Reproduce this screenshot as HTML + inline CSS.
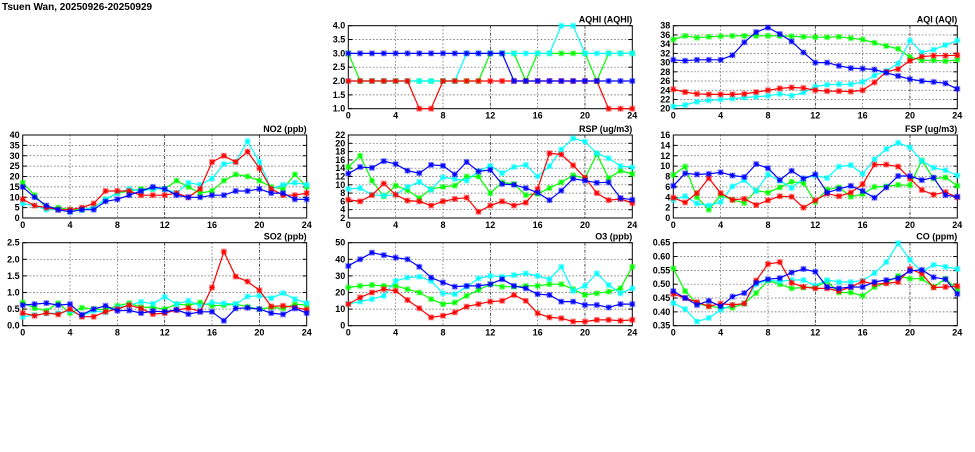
<!DOCTYPE html>
<html><head><meta charset="utf-8"><style>
body{margin:0;background:#fff;width:975px;height:447px;overflow:hidden}
svg text{font-family:"Liberation Sans",sans-serif;font-weight:bold;font-size:9px;fill:#000}
</style></head><body>
<svg id="chart" width="975" height="447" viewBox="0 0 975 447">
<text x="2" y="10" style="font-size:10px">Tsuen Wan, 20250926-20250929</text>
</svg>
<script>
const hours = [0,1,2,3,4,5,6,7,8,9,10,11,12,13,14,15,16,17,18,19,20,21,22,23,24];
const xTicks = [0,4,8,12,16,20,24];
const seriesColors = ["#00ff00","#00ffff","#ff0000","#0000ff"];

const aqhiGreen=[3,2,2,2,2,2,2,2,2,2,2,2,3,3,3,2,3,3,3,3,3,2,3,3,3];
const aqhiCyan=[2,2,2,2,2,2,2,2,2,2,3,3,3,3,3,3,3,3,4,4,3,3,3,3,3];
const aqhiRed=[2,2,2,2,2,2,1,1,2,2,2,2,2,2,2,2,2,2,2,2,2,2,1,1,1];
const aqhiBlue=[3,3,3,3,3,3,3,3,3,3,3,3,3,3,2,2,2,2,2,2,2,2,2,2,2];
const aqhiTicks=["1.0","1.5","2.0","2.5","3.0","3.5","4.0"];

const aqiGreen=[35,35.8,35.4,35.6,35.7,35.8,35.8,35.8,35.8,35.8,35.7,35.6,35.5,35.5,35.6,35.3,35,34.3,33.6,33,31.2,30.5,30.5,30.3,30.6];
const aqiCyan=[20.5,20.8,21.5,21.8,22,22.2,22.4,22.6,22.8,23.2,22.8,23.5,24.8,25.2,25.3,25.3,25.8,27.2,28.2,29.8,34.8,32.2,32.8,33.8,34.8];
const aqiRed=[24.2,23.6,23.2,23.1,23.1,23.1,23.2,23.6,24,24.4,24.6,24.5,24,23.8,23.8,23.7,24,25.7,28,28.6,30.4,31.3,31.5,31.5,31.6];
const aqiBlue=[30.6,30.4,30.6,30.6,30.6,31.6,34.4,36.6,37.6,36.2,34.6,32.2,30,30,29.3,28.8,28.7,28.5,27.8,27.1,26.4,26,25.8,25.5,24.3];
const aqiTicks=["20","22","24","26","28","30","32","34","36","38"];

const no2Green=[17,11,5,5,4,4,5,9,12,13,14,14,14,18,15,12,13,18,21,20,18,15,14,21,15];
const no2Cyan=[7,6,4,4,3,4,5,9,12,14,13,14,14,12,17,16,19,26,27,37,27,14,16,17,16];
const no2Red=[9,6,5,4,4,5,7,13,13,13,11,11,11,12,10,14,27,30,27,32,24,14,11,11,12];
const no2Blue=[15,10,6,4,3,4,4,8,9,11,13,15,14,11,10,10,11,11,13,13,14,12,12,9,9];
const no2Ticks=["0","5","10","15","20","25","30","35","40"];

const rspGreen=[14.3,17,11,7.2,9.8,8.7,6.8,9,9.5,9.8,12,12,8,10.6,10.2,7.5,7.8,9.2,10.6,12.3,11.6,17.4,11.6,13.4,12.6];
const rspCyan=[9,9.2,7.6,7.4,7.6,9.5,10.7,8.8,11.8,11.4,11,13.3,14.6,12.8,14.3,14.8,12,14.5,18.5,21.2,20.4,17.6,16.4,14.5,14.2];
const rspRed=[6.4,6,7.5,10.3,7.6,6.2,6,5,6,6.6,6.9,3.5,5,6,5,5.7,9,17.6,17.3,14.7,11.7,8,6.3,6.6,5.6];
const rspBlue=[12.7,14.3,14.1,15.7,15,13.4,12.8,14.8,14.6,12.5,15.5,13.2,13.6,10.2,10,9.2,8.1,6.3,8.6,11.5,11,10.5,10.6,6.8,6.4];
const rspTicks=["2","4","6","8","10","12","14","16","18","20","22"];

const fspGreen=[8.3,9.9,4,1.6,4.4,3.5,2.9,5.3,4.9,5.9,7,6.7,3.1,5.5,5.9,4.1,4.6,6,6.1,6.4,6.3,11.1,7.6,7.8,6.2];
const fspCyan=[3.5,4.2,2.8,2.4,3.1,6.1,7.3,5.2,8.4,7.2,5.8,7.6,8.2,7.7,9.9,10.2,8.5,11.3,13.3,14.5,13.6,11,9.7,9.2,8.2];
const fspRed=[3.9,3,4.8,7.7,4.8,3.5,3.7,2.5,3.4,4.2,4.1,2,3.4,4.7,4.2,4.9,6.5,10.3,10.3,9.9,7.6,5.4,4.5,5,4];
const fspBlue=[6.2,8.6,8.4,8.5,8.8,8.2,7.9,10.4,9.6,7.3,9.1,7.6,8.4,4.9,5.6,6.2,5.2,3.9,5.9,8.1,8.1,7.3,7.8,4.4,4.1];
const fspTicks=["0","2","4","6","8","10","12","14","16"];

const so2Green=[0.7,0.53,0.45,0.68,0.38,0.54,0.5,0.48,0.6,0.68,0.56,0.55,0.5,0.65,0.62,0.7,0.6,0.62,0.65,0.57,0.5,0.55,0.52,0.65,0.62];
const so2Cyan=[0.27,0.32,0.37,0.38,0.45,0.3,0.45,0.4,0.55,0.62,0.72,0.66,0.87,0.65,0.75,0.6,0.7,0.67,0.65,0.88,0.9,0.83,0.98,0.8,0.68];
const so2Red=[0.38,0.3,0.38,0.34,0.5,0.27,0.27,0.42,0.5,0.62,0.52,0.35,0.38,0.47,0.53,0.43,1.15,2.23,1.48,1.33,1.07,0.58,0.6,0.55,0.48];
const so2Blue=[0.62,0.65,0.68,0.62,0.65,0.33,0.5,0.6,0.45,0.46,0.38,0.44,0.42,0.48,0.35,0.42,0.42,0.15,0.52,0.54,0.5,0.38,0.34,0.52,0.38];
const so2Ticks=["0.0","0.5","1.0","1.5","2.0","2.5"];

const o3Green=[23,24,24.5,24,24,22,20,16,13,14,18,21.5,25,23.5,23.5,24,24,25,25,22,18.5,19.5,20.5,22.5,35.5];
const o3Cyan=[13,14.5,16,18,27,29,29.5,27,19.5,19,23.5,28.5,30,29.5,30.5,31.5,30,28,35.5,21,24,31.5,24.5,19.5,22.5];
const o3Red=[13,17,20,22,21,15.5,10.5,5,6,8,11.5,13,14.5,15,18.5,15,7.5,5,4.5,2.5,2.5,3.5,3.5,3,3.5];
const o3Blue=[36,40,44,42.5,41,40,35.5,29,26,23.5,24,24,25,28,24,22.5,19,18.5,14.5,14.5,12.5,12.5,11,13,13];
const o3Ticks=["0","10","20","30","40","50"];

const coGreen=[0.557,0.475,0.43,0.42,0.415,0.415,0.43,0.468,0.513,0.5,0.485,0.488,0.49,0.51,0.47,0.47,0.458,0.49,0.505,0.53,0.52,0.52,0.49,0.52,0.48];
const coCyan=[0.432,0.41,0.365,0.378,0.407,0.425,0.43,0.5,0.515,0.51,0.515,0.515,0.495,0.515,0.508,0.508,0.513,0.54,0.58,0.648,0.588,0.545,0.57,0.563,0.555];
const coRed=[0.465,0.45,0.435,0.42,0.43,0.425,0.43,0.513,0.573,0.58,0.505,0.49,0.485,0.485,0.475,0.49,0.51,0.5,0.503,0.508,0.555,0.538,0.488,0.49,0.493];
const coBlue=[0.475,0.45,0.425,0.44,0.42,0.455,0.468,0.505,0.518,0.522,0.542,0.555,0.545,0.49,0.485,0.49,0.49,0.508,0.515,0.522,0.548,0.552,0.525,0.518,0.465];
const coTicks=["0.35","0.40","0.45","0.50","0.55","0.60","0.65"];

const svg=document.getElementById('chart');
const NS="http://www.w3.org/2000/svg";
function mk(tag,attrs,parent){const e=document.createElementNS(NS,tag);for(const k in attrs)e.setAttribute(k,attrs[k]);(parent||svg).appendChild(e);return e;}

function panel(name,title,left,top,ticks,series){
  const W=284,H=83;
  const g=mk('g',{});
  
  
  const ymin=parseFloat(ticks[0]),ymax=parseFloat(ticks[ticks.length-1]);
  const xs=h=>left+h/24*W;
  const ys=v=>top+H-(v-ymin)/(ymax-ymin)*H;
  // grid
  ticks.forEach((t,i)=>{const y=ys(parseFloat(t));
    if(i>0&&i<ticks.length-1){const l=mk('line',{x1:left,x2:left+W,y1:y,y2:y,stroke:'#555','stroke-width':0.7,'stroke-dasharray':'1.5,2'},g);
      }
    mk('line',{x1:left,x2:left+4,y1:y,y2:y,stroke:'#000'},g);
    mk('line',{x1:left+W-4,x2:left+W,y1:y,y2:y,stroke:'#000'},g);
    const tx=mk('text',{x:left-3,y:y+3,'text-anchor':'end'},g);tx.textContent=t;
    
  });
  xTicks.forEach((h,i)=>{const x=xs(h);
    if(i>0&&i<xTicks.length-1){const l=mk('line',{x1:x,x2:x,y1:top,y2:top+H,stroke:(h==12||h==20)?'#000':'#555','stroke-width':0.7,'stroke-dasharray':(h==12||h==20)?'3,1.5,1,1.5':'1.5,2'},g);
      }
    const tx=mk('text',{x:x,y:top+H+10,'text-anchor':'middle'},g);tx.textContent=h;
    
  });
  const fr=mk('rect',{x:left,y:top,width:W,height:H,fill:'none',stroke:'#000','stroke-width':1},g);
  
  const tt=mk('text',{x:left+W,y:top-3,'text-anchor':'end'},g);tt.textContent=title;
  
  const names=['green','cyan','red','blue'];
  series.forEach((vals,si)=>{
    const c=seriesColors[si];
    const pts=vals.map((v,i)=>xs(hours[i]).toFixed(1)+','+ys(v).toFixed(1)).join(' ');
    const pl=mk('polyline',{points:pts,fill:'none',stroke:c,'stroke-width':1.2},g);
    
    
    vals.forEach((v,i)=>{const x=xs(hours[i]),y=ys(v);
      const m=mk('g',{},g);
      
      
      mk('rect',{x:x-3,y:y-3,width:6,height:6,fill:c,opacity:0.35},m);
      mk('path',{d:`M${x-2.5},${y}H${x+2.5}M${x},${y-2.5}V${y+2.5}M${x-2},${y-2}L${x+2},${y+2}M${x-2},${y+2}L${x+2},${y-2}`,stroke:c,'stroke-width':1},m);
    });
  });
}
panel('aqhi','AQHI (AQHI)',348.3,25.7,aqhiTicks,[aqhiGreen,aqhiCyan,aqhiRed,aqhiBlue]);
panel('aqi','AQI (AQI)',673.3,25.7,aqiTicks,[aqiGreen,aqiCyan,aqiRed,aqiBlue]);
panel('no2','NO2 (ppb)',22.7,135,no2Ticks,[no2Green,no2Cyan,no2Red,no2Blue]);
panel('rsp','RSP (ug/m3)',348.3,135,rspTicks,[rspGreen,rspCyan,rspRed,rspBlue]);
panel('fsp','FSP (ug/m3)',673.3,135,fspTicks,[fspGreen,fspCyan,fspRed,fspBlue]);
panel('so2','SO2 (ppb)',22.7,242.7,so2Ticks,[so2Green,so2Cyan,so2Red,so2Blue]);
panel('o3','O3 (ppb)',348.3,242.7,o3Ticks,[o3Green,o3Cyan,o3Red,o3Blue]);
panel('co','CO (ppm)',673.3,242.7,coTicks,[coGreen,coCyan,coRed,coBlue]);
</script>
</body></html>
